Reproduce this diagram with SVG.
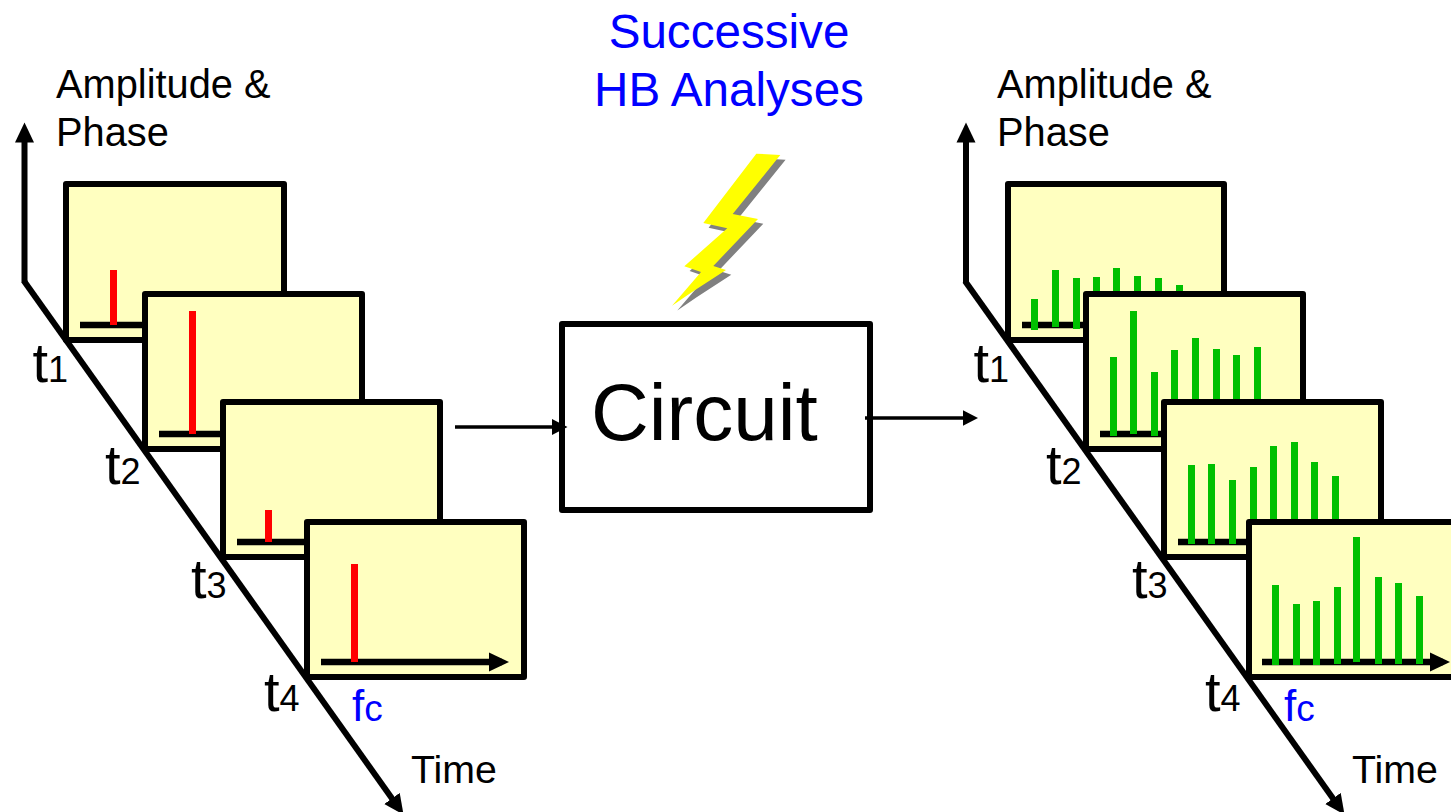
<svg xmlns="http://www.w3.org/2000/svg" width="1451" height="812" viewBox="0 0 1451 812">
<style>
text{font-family:"Liberation Sans",Arial,sans-serif;fill:#000}
text.blue,tspan.blue{fill:#0000ff}
.lab{font-size:39.800px}
.time{font-size:39.300px}
.t{font-size:56px}
.s{font-size:36px}
.f{font-size:44px}
.fs{font-size:37px}
.panel{fill:#ffffc0;stroke:#000;stroke-width:6;stroke-linejoin:round}
.base{stroke:#000;stroke-width:6.5;fill:none}
.axis{stroke:#000;stroke-width:6;fill:none}
.thin{stroke:#000;stroke-width:3.5;fill:none}
.r{fill:#ff0000}
.g{fill:#00c000}
</style>
<defs>
<marker id="big" markerUnits="userSpaceOnUse" markerWidth="24" markerHeight="24" refX="13" refY="10" orient="auto"><path d="M0 0.500L20 10L0 19.500Z" fill="#000"/></marker>
<marker id="small" markerUnits="userSpaceOnUse" markerWidth="18" markerHeight="18" refX="10" refY="8" orient="auto"><path d="M0 0L15.500 8L0 16Z" fill="#000"/></marker>
</defs>
<g id="left-panel-1">
<rect class="panel" x="66" y="184" width="218" height="156"/>
<path class="base" d="M80 325H146"/>
<rect class="r" x="110" y="270" width="7" height="55"/>
</g>
<g id="left-panel-2">
<rect class="panel" x="145" y="294" width="217" height="155"/>
<path class="base" d="M159 434H224"/>
<rect class="r" x="189" y="311" width="7" height="123"/>
</g>
<g id="left-panel-3">
<rect class="panel" x="223" y="402" width="217" height="155"/>
<path class="base" d="M237 542H308"/>
<rect class="r" x="265" y="510" width="7" height="32"/>
</g>
<g id="left-panel-4">
<rect class="panel" x="307" y="522" width="217" height="155"/>
<path class="base" d="M321 662H502" marker-end="url(#big)"/>
<rect class="r" x="351" y="564" width="7" height="98"/>
</g>
<g id="right-panel-1">
<rect class="panel" x="1008" y="184" width="216" height="156"/>
<path class="base" d="M1022 325H1088"/>
<rect class="g" x="1031" y="299" width="7" height="31"/>
<rect class="g" x="1052" y="270" width="7" height="57"/>
<rect class="g" x="1073" y="278" width="7" height="51"/>
<rect class="g" x="1093" y="277" width="7" height="40"/>
<rect class="g" x="1113" y="268" width="7" height="40"/>
<rect class="g" x="1134" y="276" width="7" height="30"/>
<rect class="g" x="1155" y="278" width="7" height="30"/>
<rect class="g" x="1176" y="285" width="7" height="20"/>
</g>
<g id="right-panel-2">
<rect class="panel" x="1086" y="294" width="217" height="155"/>
<path class="base" d="M1100 434H1168"/>
<rect class="g" x="1110" y="357" width="7" height="79"/>
<rect class="g" x="1130" y="311" width="7" height="123"/>
<rect class="g" x="1151" y="372" width="7" height="64"/>
<rect class="g" x="1171" y="350" width="7" height="60"/>
<rect class="g" x="1192" y="338" width="7" height="70"/>
<rect class="g" x="1213" y="349" width="7" height="60"/>
<rect class="g" x="1233" y="355" width="7" height="55"/>
<rect class="g" x="1254" y="347" width="7" height="60"/>
</g>
<g id="right-panel-3">
<rect class="panel" x="1164" y="402" width="217" height="155"/>
<path class="base" d="M1178 542H1250"/>
<rect class="g" x="1188" y="465" width="7" height="79"/>
<rect class="g" x="1208" y="464" width="7" height="80"/>
<rect class="g" x="1229" y="480" width="7" height="64"/>
<rect class="g" x="1250" y="467" width="7" height="60"/>
<rect class="g" x="1270" y="446" width="7" height="80"/>
<rect class="g" x="1291" y="442" width="7" height="84"/>
<rect class="g" x="1311" y="462" width="7" height="64"/>
<rect class="g" x="1332" y="476" width="7" height="50"/>
</g>
<g id="right-panel-4">
<rect class="panel" x="1249" y="522" width="217" height="155"/>
<path class="base" d="M1262 662H1443" marker-end="url(#big)"/>
<rect class="g" x="1272" y="585" width="7" height="80"/>
<rect class="g" x="1293" y="604" width="7" height="61"/>
<rect class="g" x="1313" y="601" width="7" height="64"/>
<rect class="g" x="1334" y="587" width="7" height="77"/>
<rect class="g" x="1353" y="537" width="7" height="125"/>
<rect class="g" x="1375" y="577" width="7" height="87"/>
<rect class="g" x="1395" y="583" width="7" height="81"/>
<rect class="g" x="1416" y="596" width="7" height="68"/>
</g>
<g id="circuit">
<rect x="562" y="324" width="308" height="186" fill="#fff" stroke="#000" stroke-width="6" stroke-linejoin="round"/>
<text x="591" y="440" font-size="80">Circuit</text>
</g>
<g id="bolt">
<polygon points="756.300,153.700 780.300,155 732.700,214 758,219 713.300,266 726,270 691.700,292.300 672,305.700 701,272 684.300,266.300 727.300,228.300 703.300,223" fill="#808080" transform="translate(5.300 4.700)"/>
<polygon points="756.300,153.700 780.300,155 732.700,214 758,219 713.300,266 726,270 691.700,292.300 672,305.700 701,272 684.300,266.300 727.300,228.300 703.300,223" fill="#ffff00"/>
</g>
<g id="connectors">
<path class="axis" d="M24.500 283V129.500" marker-end="url(#big)"/>
<path class="axis" d="M24 281L399.500 809" marker-end="url(#big)"/>
<path class="axis" d="M966 283V129.500" marker-end="url(#big)"/>
<path class="axis" d="M965 281L1340.500 809" marker-end="url(#big)"/>
<path class="thin" d="M455 427H562" marker-end="url(#small)"/>
<path class="thin" d="M865 418H972.500" marker-end="url(#small)"/>
</g>
<g id="labels">
<text class="blue" x="729" y="48" font-size="47.600" text-anchor="middle">Successive</text>
<text class="blue" x="729" y="106" font-size="47.600" text-anchor="middle">HB Analyses</text>
<text class="lab" x="56" y="98">Amplitude &amp;</text>
<text class="lab" x="56" y="146">Phase</text>
<text class="lab" x="997" y="98">Amplitude &amp;</text>
<text class="lab" x="997" y="146">Phase</text>
<text x="32.500" y="382"><tspan class="t">t</tspan><tspan class="s">1</tspan></text>
<text x="105" y="484"><tspan class="t">t</tspan><tspan class="s">2</tspan></text>
<text x="191" y="598"><tspan class="t">t</tspan><tspan class="s">3</tspan></text>
<text x="264" y="711"><tspan class="t">t</tspan><tspan class="s">4</tspan></text>
<text x="973.500" y="382"><tspan class="t">t</tspan><tspan class="s">1</tspan></text>
<text x="1046" y="484"><tspan class="t">t</tspan><tspan class="s">2</tspan></text>
<text x="1132" y="598"><tspan class="t">t</tspan><tspan class="s">3</tspan></text>
<text x="1205" y="711"><tspan class="t">t</tspan><tspan class="s">4</tspan></text>
<text x="352" y="721"><tspan class="blue f">f</tspan><tspan class="blue fs">c</tspan></text>
<text x="1284" y="721"><tspan class="blue f">f</tspan><tspan class="blue fs">c</tspan></text>
<text class="time" x="411" y="783">Time</text>
<text class="time" x="1352" y="783">Time</text>
</g>
</svg>
